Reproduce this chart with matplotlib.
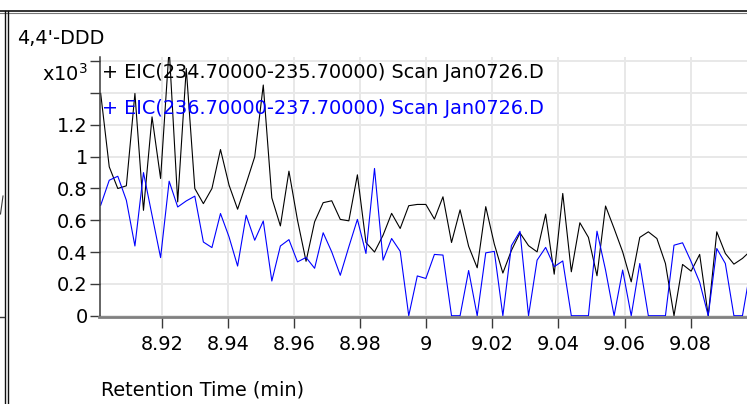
import numpy as np
import matplotlib.pyplot as plt
from matplotlib.lines import Line2D

plt.rcParams['font.family'] = ['DejaVu Sans']
plt.rcParams['font.size'] = 13.9
plt.rcParams['mathtext.fontset'] = 'dejavusans'

W, H = 747, 404

# scan timing (min)
scan_start = 8.9015
scan_step = 0.002589

# extracted ion chromatograms, counts x10^3
eic_235 = [1.396, 0.935, 0.799, 0.816, 1.396, 0.662, 1.249, 0.862, 1.68, 0.715,
           1.553, 0.799, 0.704, 0.799, 1.044, 0.820, 0.669, 0.830, 0.998, 1.449,
           0.740, 0.564, 0.908, 0.600, 0.342, 0.590, 0.710, 0.722, 0.605, 0.596,
           0.885, 0.460, 0.400, 0.506, 0.643, 0.548, 0.691, 0.699, 0.699, 0.607,
           0.747, 0.460, 0.665, 0.436, 0.301, 0.685, 0.450, 0.268, 0.410, 0.520,
           0.440, 0.401, 0.638, 0.261, 0.768, 0.276, 0.584, 0.492, 0.251, 0.689,
           0.548, 0.401, 0.213, 0.492, 0.527, 0.485, 0.328, 0.000, 0.322, 0.280,
           0.385, 0.000, 0.527, 0.391, 0.324, 0.360, 0.410]
eic_237 = [0.694, 0.851, 0.876, 0.725, 0.438, 0.899, 0.631, 0.365, 0.845, 0.683,
           0.721, 0.751, 0.463, 0.428, 0.642, 0.495, 0.312, 0.631, 0.474, 0.595,
           0.218, 0.438, 0.478, 0.338, 0.366, 0.298, 0.521, 0.401, 0.254, 0.433,
           0.605, 0.391, 0.925, 0.349, 0.485, 0.405, 0.000, 0.250, 0.234, 0.385,
           0.381, 0.000, 0.000, 0.284, 0.000, 0.395, 0.404, 0.000, 0.440, 0.530,
           0.000, 0.349, 0.429, 0.308, 0.344, 0.000, 0.000, 0.000, 0.531, 0.287,
           0.000, 0.287, 0.000, 0.328, 0.000, 0.000, 0.000, 0.443, 0.458, 0.340,
           0.210, 0.000, 0.422, 0.328, 0.000, 0.000, 0.310]

x_ticks = [8.92, 8.94, 8.96, 8.98, 9.00, 9.02, 9.04, 9.06, 9.08]
x_tick_labels = ['8.92', '8.94', '8.96', '8.98', '9', '9.02', '9.04', '9.06', '9.08']
y_ticks = [0, 0.2, 0.4, 0.6, 0.8, 1.0, 1.2, 1.4, 1.6]
y_tick_labels = ['0', '0.2', '0.4', '0.6', '0.8', '1', '1.2', '', '']

trace_names = ['+ EIC(234.70000-235.70000) Scan Jan0726.D',
               '+ EIC(236.70000-237.70000) Scan Jan0726.D']
trace_colors = ['black', '#0000ff']

rt = scan_start + scan_step * np.arange(len(eic_235))


def fx(x):
    return x / W


def fy(y):
    return 1 - y / H


fig = plt.figure(figsize=(W / 100, H / 100), dpi=100)
ax = fig.add_axes([fx(99.5), fy(317), (W - 99.5) / W, 260 / H])

for series, c in zip([eic_235, eic_237], trace_colors):
    ax.plot(rt, series, color=c, lw=0.8)

ax.set_xlim(8.90114, 9.09705)
ax.set_ylim(-0.008, 1.625)
ax.set_xticks(x_ticks)
ax.set_xticklabels(x_tick_labels)
ax.set_yticks(y_ticks)
ax.set_yticklabels(y_tick_labels)

ax.grid(color='#e8e8e8', lw=1.4)
ax.set_axisbelow(True)
for side in ['top', 'right']:
    ax.spines[side].set_visible(False)
ax.spines['left'].set_color('#3a3a3a')
ax.spines['left'].set_linewidth(1.1)
ax.spines['bottom'].set_color('#808080')
ax.spines['bottom'].set_linewidth(2)
ax.tick_params(axis='x', direction='out', length=8, width=1, color='#3a3a3a', pad=5)
ax.tick_params(axis='y', direction='out', length=7.5, width=1, color='#3a3a3a', pad=1)

# panel texts
fig.text(fx(17), fy(43.5), "4,4'-DDD", va='baseline', ha='left')
fig.text(fx(88), fy(80.5), r'x10$^3$', va='baseline', ha='right')
for i, (name, c) in enumerate(zip(trace_names, trace_colors)):
    fig.text(fx(102), fy(77.5 + 36.5 * i), name, color=c, va='baseline', ha='left')
fig.text(fx(101), fy(395.5), 'Retention Time (min)', va='baseline', ha='left')

# window frame
fig.add_artist(Line2D([0, 1], [fy(11), fy(11)], color='#111111', lw=1.2))
fig.add_artist(Line2D([0, 1], [fy(12.5), fy(12.5)], color='#777777', lw=0.8))
for xl in [5, 7.5]:
    fig.add_artist(Line2D([fx(xl), fx(xl)], [fy(11), 0], color='#111111', lw=1.0))

# edge of the neighbouring panel
fig.add_artist(Line2D([fx(0), fx(4)], [fy(317), fy(317)], color='#3a3a3a', lw=1.0))
fig.add_artist(Line2D([fx(0.5), fx(3)], [fy(214), fy(196)], color='#3a3a3a', lw=0.8))

fig.savefig('out.png', dpi=100)
